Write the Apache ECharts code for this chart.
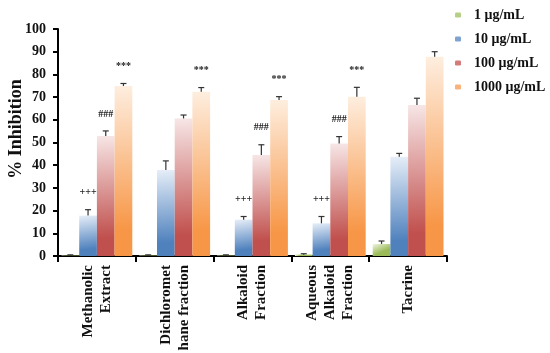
<!DOCTYPE html>
<html><head><meta charset="utf-8">
<script src="https://cdn.jsdelivr.net/npm/echarts@6/dist/echarts.min.js"></script>
<style>html,body{margin:0;padding:0;background:#fff}#c{width:550px;height:353px}</style>
</head><body><div id="c"></div>
<script>
const categories = ['Methanolic\nExtract', 'Dichloromet\nhane fraction', 'Alkaloid\nFraction', 'Aqueous\nAlkaloid\nFraction', 'Tacrine'];
const seriesNames = ['1 μg/mL', '10 μg/mL', '100 μg/mL', '1000 μg/mL'];
const yAxisTitle = '% Inhibition';
const v1 = [0.2, 0.2, 0.2, 0.6, 5.3];
const e1 = [0.3, 0.3, 0.3, 0.4, 1.3];
const v10 = [17.8, 37.9, 16.0, 14.4, 43.7];
const e10 = [2.6, 4.0, 1.4, 3.0, 1.5];
const v100 = [52.9, 60.6, 44.5, 49.6, 66.5];
const e100 = [2.2, 1.5, 4.5, 3.0, 3.0];
const v1000 = [74.9, 72.4, 68.7, 70.2, 87.8];
const e1000 = [1.1, 1.8, 1.5, 4.1, 2.2];
const marks10 = ['+++', '', '+++', '+++', ''];
const marks100 = ['###', '', '###', '###', ''];
const marks1000 = ['***', '***', '***', '***', ''];
const yTicks = [0, 100, 10];

const values = [v1, v10, v100, v1000];
const errors = [e1, e10, e100, e1000];
const marks = [null, marks10, marks100, marks1000];
const baseColors = [
  ['#f0f6e2', '#9bbb59'],
  ['#e6eef8', '#4f81bd'],
  ['#f7e6e6', '#c0504d'],
  ['#feeedf', '#f79646']
];
const legendColors = ['#b5cf86', '#7fa3d1', '#d47b78', '#f9b27a'];
const font = '"Liberation Serif", "Times New Roman", serif';
const CAT_GAP = 0.09;

const barSeries = values.map((arr, i) => ({
  name: seriesNames[i],
  type: 'bar',
  data: arr,
  barGap: '0%',
  barCategoryGap: (CAT_GAP * 100) + '%',
  itemStyle: {
    color: {
      type: 'linear', x: 0, y: 0, x2: 0.3, y2: 1,
      colorStops: [{offset: 0, color: baseColors[i][0]}, {offset: 0.85, color: baseColors[i][1]}, {offset: 1, color: baseColors[i][1]}]
    }
  }
}));

const errSeries = values.map((arr, i) => ({
  type: 'custom',
  silent: true,
  z: 5,
  data: arr.map((v, k) => [k, v, errors[i][k]]),
  renderItem: function (params, api) {
    const k = api.value(0);
    const v = api.value(1);
    const e = api.value(2);
    const mk = marks[i] ? marks[i][k] : '';
    const band = api.size([1, 0])[0];
    const barW = band * (1 - CAT_GAP) / 4;
    const off = (i - 1.5) * barW;
    const pTop = api.coord([k, v + e]);
    const pBase = api.coord([k, v]);
    const x = pTop[0] + off;
    const cap = 3;
    const children = [
      {type: 'line', shape: {x1: x, y1: pBase[1], x2: x, y2: pTop[1]}, style: {stroke: '#333', lineWidth: 1.2}},
      {type: 'line', shape: {x1: x - cap, y1: pTop[1], x2: x + cap, y2: pTop[1]}, style: {stroke: '#333', lineWidth: 1.2}}
    ];
    if (mk) {
      children.push({type: 'text', style: {text: mk, x: x, y: pTop[1] - 17, align: 'center', verticalAlign: 'middle',
        font: 'bold 10px ' + font, fill: '#222'}});
    }
    return {type: 'group', children: children};
  }
}));

const chart = echarts.init(document.getElementById('c'));
chart.setOption({
  animation: false,
  backgroundColor: '#fff',
  grid: {left: 58, right: 103, top: 29, bottom: 97, containLabel: false, outerBoundsMode: 'none'},
  graphic: [{
    type: 'text', x: 16, y: 129, rotation: Math.PI / 2,
    style: {text: yAxisTitle, align: 'center', verticalAlign: 'middle',
      font: 'bold 18px ' + font, fill: '#111'}
  }],
  legend: {
    orient: 'vertical', left: 455, top: 7, padding: 0,
    itemWidth: 6, itemHeight: 5, itemGap: 8,
    data: seriesNames.map((n, i) => ({name: n, itemStyle: {color: legendColors[i]}})),
    textStyle: {fontFamily: font, fontWeight: 'bold', fontSize: 14, color: '#111', lineHeight: 16, padding: [0, 0, 0, 8]}
  },
  xAxis: {
    type: 'category',
    data: categories,
    axisLine: {lineStyle: {color: '#000', width: 2}},
    axisTick: {show: true, length: 6, lineStyle: {color: '#000', width: 2}},
    axisLabel: {rotate: 90, fontFamily: font, fontWeight: 'bold', fontSize: 15, color: '#111', lineHeight: 18, margin: 9}
  },
  yAxis: {
    type: 'value', min: yTicks[0], max: yTicks[1], interval: yTicks[2],
    axisLine: {show: true, lineStyle: {color: '#000', width: 2}},
    axisTick: {show: true, length: 5, lineStyle: {color: '#000', width: 2}},
    splitLine: {show: false},
    axisLabel: {fontFamily: font, fontWeight: 'bold', fontSize: 14, color: '#111', margin: 12}
  },
  series: barSeries.concat(errSeries)
});
</script></body></html>
